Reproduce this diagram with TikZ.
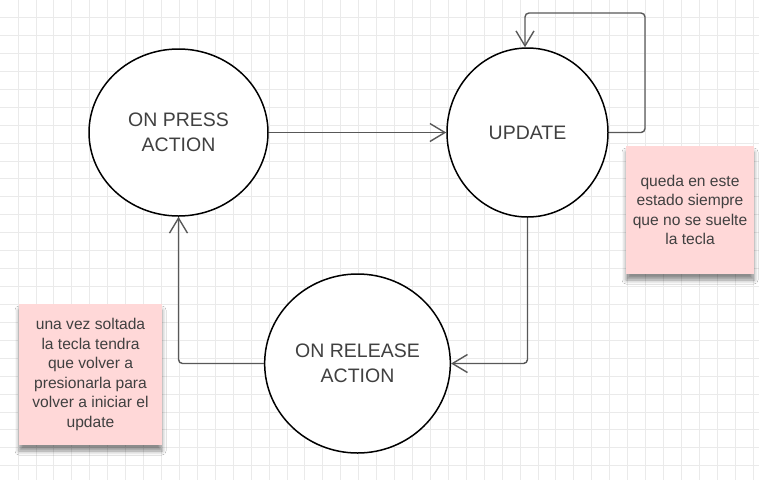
\documentclass[tikz,border=0pt]{standalone}
\usepackage{fontspec}
\setmainfont{Liberation Sans}
\usepackage{tikz}
\usetikzlibrary{arrows.meta}
\usetikzlibrary{shapes.geometric}
\usetikzlibrary{shadows.blur}
\definecolor{gridgray}{RGB}{234,234,234}
\definecolor{txtgray}{RGB}{64,64,64}
\definecolor{linkgray}{RGB}{88,88,88}
\definecolor{notepink}{RGB}{255,216,216}
\tikzstyle{gridline} = [draw=gridgray,line width=0.7pt]
\tikzstyle{state} = [draw=black,line width=1.5pt,fill=white,shape=ellipse,text=txtgray,align=center,font=\fontsize{19.5}{24.5}\selectfont]
\tikzstyle{note} = [fill=notepink,text=txtgray,align=center,font=\fontsize{15.6}{19.5}\selectfont,blur shadow={shadow xshift=0pt,shadow yshift=-6pt,shadow blur radius=4pt,shadow opacity=45}]
\tikzstyle{link} = [draw=linkgray,line width=1.4pt,rounded corners=4pt,-{Straight Barb[length=15pt,width=18pt]}]

\begin{document}
\begin{tikzpicture}[x=1pt,y=-1pt]

% background and grid
    \useasboundingbox (0,0) rectangle (759,480);
    \fill[white] (0,0) rectangle (759,480);
    \def\gs{17.93}
    \foreach \i in {1,...,42} {
        \draw[gridline] (\i*\gs,0) -- (\i*\gs,480);
    }
    \foreach \j in {1,...,26} {
        \draw[gridline] (0,\j*\gs-0.5) -- (759,\j*\gs-0.5);
    }

% states
    \node[state,minimum width=179pt,minimum height=167pt] at (178.5,132.5) (press) {ON PRESS\\ACTION};
    \node[state,minimum width=161pt,minimum height=169pt] at (527.5,132.5) (update) {UPDATE};
    \node[state,minimum width=179pt,minimum height=179pt] at (357.5,363.5) (release) {ON RELEASE\\ACTION};

% notes
    \node[note,minimum width=128pt,minimum height=128pt] at (690,210) (keep) {queda en este\\estado siempre\\que no se suelte\\la tecla};
    \node[note,minimum width=143pt,minimum height=141pt] at (90.5,374.5) (again) {una vez soltada\\la tecla tendra\\que volver a\\presionarla para\\volver a iniciar el\\update};

% join up
    \coordinate (loopr) at (645,13);
    \coordinate (loopl) at (525,13);
    \draw[link] (press.east) -- (update.west);
    \draw[link] (update.east) -- (loopr |- update.east) -- (loopr) -- (loopl) -- (loopl |- update.north);
    \draw[link] (update.south) |- (release.east);
    \draw[link] (release.west) -| (press.south);

\end{tikzpicture}
\end{document}
